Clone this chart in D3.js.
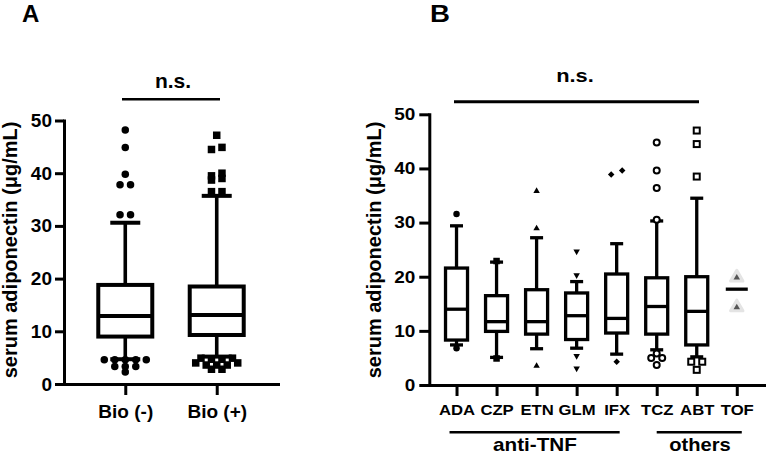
<!DOCTYPE html>
<html>
<head>
<meta charset="utf-8">
<script src="https://cdn.jsdelivr.net/npm/d3@7"></script>
<style>
  html, body { margin: 0; padding: 0; background: #fff; }
  svg { display: block; }
  text { font-family: "Liberation Sans", Arial, Helvetica, sans-serif; font-weight: bold; fill: #000; }
</style>
</head>
<body>
<svg id="chart" width="766" height="455"></svg>
<script>
// ---------- Panel A data ----------
const groupsA = ["Bio (-)", "Bio (+)"];
const whiskerLowA = [4.7, 5.2];
const q1A = [9.0, 9.3];
const medianA = [12.9, 13.1];
const q3A = [18.8, 18.5];
const whiskerHighA = [30.6, 35.7];
const outliersA = [
  [48.2, 44.9, 39.8, 37.8, 37.8, 32.1, 32.1, 4.6, 4.6, 4.6, 4.6, 4.6, 3.3, 3.3, 3.3, 2.3],
  [47.2, 44.5, 44.9, 39.5, 40.0, 38.7, 39.0, 36.5, 36.5, 4.9, 4.7, 4.7, 4.9, 4.0, 3.6, 3.6, 3.6, 4.0, 2.8, 2.8]
];
const markersA = ["circle", "square"];
const yTicksA = [0, 10, 20, 30, 40, 50];

// ---------- Panel B data ----------
const catsB = ["ADA", "CZP", "ETN", "GLM", "IFX", "TCZ", "ABT", "TOF"];
const whiskerLowB = [7.4, 5.1, 6.7, 6.8, 5.7, 6.5, 5.2, null];
const q1B = [8.3, 9.9, 9.4, 8.4, 9.6, 9.4, 7.4, null];
const medianB = [14.0, 11.7, 11.7, 12.8, 12.3, 14.5, 13.6, 17.7];
const q3B = [21.6, 16.5, 17.6, 17.0, 20.5, 19.8, 20.0, null];
const whiskerHighB = [29.4, 22.7, 27.2, 19.1, 26.1, 30.3, 34.5, null];
const outliersB = [
  [31.6, 6.8],
  [22.9, 4.9],
  [36.0, 29.1, 3.7],
  [24.5, 20.1, 5.2, 2.9],
  [38.9, 39.6, 4.3],
  [44.8, 39.6, 36.4, 30.5, 5.8, 5.0, 5.0, 3.7],
  [47.0, 44.5, 38.5, 4.3, 4.3, 2.8],
  [20.0, 14.5]
];
const markersB = ["circle", "square", "triangle", "triangleDown", "diamond", "circleOpen", "squareOpen", "triangleGrey"];
const yTicksB = [0, 10, 20, 30, 40, 50];
const groupLabelsB = ["anti-TNF", "others"];
const groupSpansB = [["ADA", "IFX"], ["TCZ", "TOF"]];
const sigLabel = "n.s.";
const yLabel = "serum adiponectin (\u03bcg/mL)";

const svg = d3.select("#chart");
const SX = 1.15; // horizontal stretch of panel B lettering

// Arrange outliers into rows and spread them horizontally (GraphPad-like)
function spread(values, yScale, step, tolPx) {
  const idx = values.map((v, i) => i).sort((a, b) => values[b] - values[a]);
  const rows = [];
  idx.forEach(i => {
    const last = rows[rows.length - 1];
    if (last && Math.abs(yScale(values[i]) - yScale(values[last[0]])) < tolPx) last.push(i);
    else rows.push([i]);
  });
  const off = new Array(values.length).fill(0);
  rows.forEach(r => {
    const sorted = r.slice().sort((a, b) => a - b);
    sorted.forEach((i, k) => { off[i] = (k - (sorted.length - 1) / 2) * step; });
  });
  return off;
}

function drawMarker(g, type, x, y, s) {
  if (type === "circle") {
    g.append("circle").attr("cx", x).attr("cy", y).attr("r", s / 2).attr("fill", "#000");
  } else if (type === "square") {
    g.append("rect").attr("x", x - s / 2).attr("y", y - s / 2).attr("width", s).attr("height", s).attr("fill", "#000");
  } else if (type === "triangle") {
    const h = s * 0.87;
    g.append("path").attr("d", `M${x},${y - h / 2}L${x + s / 2},${y + h / 2}L${x - s / 2},${y + h / 2}Z`).attr("fill", "#000");
  } else if (type === "triangleDown") {
    const h = s * 0.87;
    g.append("path").attr("d", `M${x},${y + h / 2}L${x + s / 2},${y - h / 2}L${x - s / 2},${y - h / 2}Z`).attr("fill", "#000");
  } else if (type === "diamond") {
    g.append("path").attr("d", `M${x},${y - s / 2}L${x + s / 2},${y}L${x},${y + s / 2}L${x - s / 2},${y}Z`).attr("fill", "#000");
  } else if (type === "circleOpen") {
    g.append("circle").attr("cx", x).attr("cy", y).attr("r", s / 2 - 1).attr("fill", "#fff").attr("stroke", "#000").attr("stroke-width", 2);
  } else if (type === "squareOpen") {
    g.append("rect").attr("x", x - s / 2 + 1).attr("y", y - s / 2 + 1).attr("width", s - 2).attr("height", s - 2)
      .attr("fill", "#fff").attr("stroke", "#000").attr("stroke-width", 2);
  } else if (type === "triangleGrey") {
    const S = s * 1.9, H = S * 0.87;
    g.append("path").attr("d", `M${x},${y - H / 2 - 1}L${x + S / 2},${y + H / 2 - 1}L${x - S / 2},${y + H / 2 - 1}Z`)
      .attr("fill", "#e4e4e4").attr("stroke", "#e4e4e4").attr("stroke-width", 3).attr("stroke-linejoin", "round");
    const h = s * 0.87;
    g.append("path").attr("d", `M${x},${y - h / 2}L${x + s / 2},${y + h / 2}L${x - s / 2},${y + h / 2}Z`).attr("fill", "#555");
  }
}

function drawBox(g, x, lo, q1, med, q3, hi, y, bw, cw, sw, wsw) {
  if (hi != null) {
    g.append("line").attr("x1", x).attr("x2", x).attr("y1", y(q3)).attr("y2", y(hi)).attr("stroke", "#000").attr("stroke-width", wsw);
    g.append("line").attr("x1", x - cw / 2).attr("x2", x + cw / 2).attr("y1", y(hi)).attr("y2", y(hi)).attr("stroke", "#000").attr("stroke-width", sw);
  }
  if (lo != null) {
    g.append("line").attr("x1", x).attr("x2", x).attr("y1", y(q1)).attr("y2", y(lo)).attr("stroke", "#000").attr("stroke-width", wsw);
    g.append("line").attr("x1", x - cw / 2).attr("x2", x + cw / 2).attr("y1", y(lo)).attr("y2", y(lo)).attr("stroke", "#000").attr("stroke-width", sw);
  }
  if (q1 != null) {
    g.append("rect").attr("x", x - bw / 2).attr("y", y(q3)).attr("width", bw).attr("height", y(q1) - y(q3))
      .attr("fill", "#fff").attr("stroke", "#000").attr("stroke-width", sw);
  }
  g.append("line").attr("x1", x - bw / 2).attr("x2", x + bw / 2).attr("y1", y(med)).attr("y2", y(med)).attr("stroke", "#000").attr("stroke-width", sw);
}

function styleAxis(g, sw) {
  g.select(".domain").attr("stroke", "#000").attr("stroke-width", sw).attr("stroke-linecap", "square");
  g.selectAll(".tick line").attr("stroke", "#000").attr("stroke-width", sw);
}

// ================= Panel A =================
const yA = d3.scaleLinear().domain([0, 50]).range([384, 120.5]);
const xA = d3.scalePoint().domain(groupsA).range([64, 278]).padding(0.67);
const gA = svg.append("g");

const axYA = gA.append("g").attr("transform", `translate(64,0)`)
  .call(d3.axisLeft(yA).tickValues(yTicksA).tickSize(9).tickPadding(3).tickSizeOuter(0));
styleAxis(axYA, 3);
axYA.selectAll("text").style("font-size", "19px").attr("font-family", null);

const axXA = gA.append("g").attr("transform", `translate(0,384)`)
  .call(d3.axisBottom(xA).tickSize(11).tickPadding(9.5).tickSizeOuter(0));
styleAxis(axXA, 3);
axXA.selectAll("text").style("font-size", "19px").attr("font-family", null);

groupsA.forEach((c, i) => {
  const x = xA(c);
  drawBox(gA, x, whiskerLowA[i], q1A[i], medianA[i], q3A[i], whiskerHighA[i], yA, 54, 30, 4, 3.6);
  const offs = spread(outliersA[i], yA, 10.5, 4);
  outliersA[i].forEach((v, j) => drawMarker(gA, markersA[i], x + offs[j], yA(v), 7.5));
});

gA.append("text").attr("x", 22).attr("y", 22).style("font-size", "24px").text("A");
gA.append("text").attr("transform", "translate(17,250) rotate(-90)").attr("text-anchor", "middle")
  .style("font-size", "20px").text(yLabel);
gA.append("line").attr("x1", 122).attr("x2", 220).attr("y1", 99.3).attr("y2", 99.3).attr("stroke", "#000").attr("stroke-width", 2.6);
gA.append("text").attr("x", 173).attr("y", 88).attr("text-anchor", "middle").style("font-size", "21px").text(sigLabel);

// ================= Panel B =================
const yB = d3.scaleLinear().domain([0, 50]).range([385, 114.3]);
const xB = d3.scalePoint().domain(catsB).range([429.3, 764]).padding(0.68);
const gB = svg.append("g");

function stretchTexts(sel) {
  sel.each(function () {
    const t = d3.select(this);
    const x = +t.attr("x") || 0;
    t.attr("x", x / SX).attr("transform", `scale(${SX},1)`);
  });
}

const axYB = gB.append("g").attr("transform", `translate(429.3,0)`)
  .call(d3.axisLeft(yB).tickValues(yTicksB).tickSize(10).tickPadding(4).tickSizeOuter(0));
styleAxis(axYB, 3);
axYB.selectAll("text").style("font-size", "16.5px").attr("font-family", null);
stretchTexts(axYB.selectAll("text"));

const axXB = gB.append("g").attr("transform", `translate(0,385)`)
  .call(d3.axisBottom(xB).tickSize(11).tickPadding(8.7).tickSizeOuter(0));
styleAxis(axXB, 3);
axXB.selectAll("text").style("font-size", "14.5px").attr("font-family", null);
stretchTexts(axXB.selectAll("text"));

catsB.forEach((c, i) => {
  const x = xB(c);
  drawBox(gB, x, whiskerLowB[i], q1B[i], medianB[i], q3B[i], whiskerHighB[i], yB, 22, 13, 3.3, 3.3);
  const offs = spread(outliersB[i], yB, 11, 4);
  outliersB[i].forEach((v, j) => drawMarker(gB, markersB[i], x + offs[j], yB(v), markersB[i] === "circleOpen" || markersB[i] === "squareOpen" ? 8 : 6.5));
});

function stretchedText(g, x, y, size, str) {
  g.append("text").attr("transform", `translate(${x},${y}) scale(${SX},1)`).attr("text-anchor", "middle")
    .style("font-size", size + "px").text(str);
}

gB.append("text").attr("transform", `translate(430,22) scale(${SX},1)`).style("font-size", "24px").text("B");
gB.append("text").attr("transform", "translate(381,250) rotate(-90)").attr("text-anchor", "middle")
  .style("font-size", "20px").text(yLabel);
gB.append("line").attr("x1", 454).attr("x2", 699).attr("y1", 101.7).attr("y2", 101.7).attr("stroke", "#000").attr("stroke-width", 3);
stretchedText(gB, 575, 82, 19, sigLabel);

// group brackets under the category labels
const spanExtra = [[-7, 3], [0, 5]];
groupSpansB.forEach((s, i) => {
  const x1 = xB(s[0]) + spanExtra[i][0], x2 = xB(s[1]) + spanExtra[i][1];
  gB.append("line").attr("x1", x1).attr("x2", x2).attr("y1", 432.3).attr("y2", 432.3).attr("stroke", "#000").attr("stroke-width", 2.6);
});
stretchedText(gB, 535, 450.5, 18, groupLabelsB[0]);
stretchedText(gB, 700, 450.5, 17.5, groupLabelsB[1]);
</script>
</body>
</html>
